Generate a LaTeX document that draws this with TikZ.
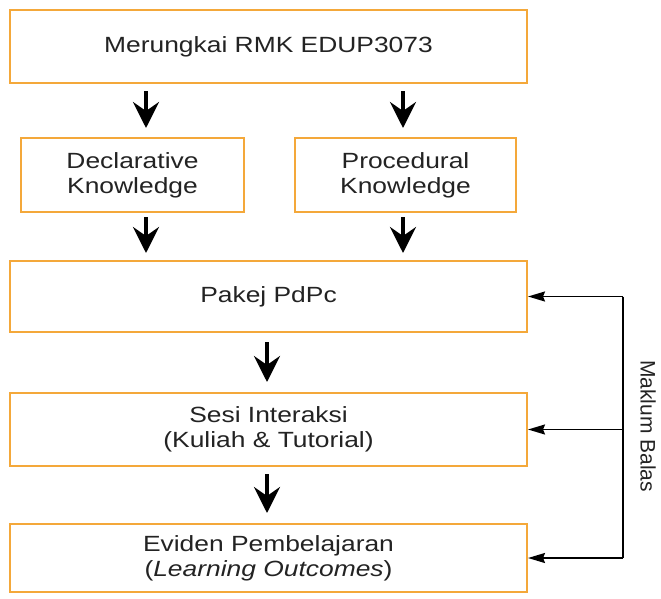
\documentclass[tikz,border=0pt]{standalone}
\usepackage{fontspec}
\setmainfont{Liberation Sans}[FakeStretch=1.2]
\newfontfamily\labelfont{Liberation Sans}
\usetikzlibrary{arrows.meta}

\definecolor{boxorange}{RGB}{244,168,58}
\definecolor{textgray}{RGB}{35,35,35}

\tikzset{
  stage/.style={draw=boxorange, line width=2pt, fill=white, align=center,
    text=textgray, inner sep=0pt,
    font=\fontsize{22}{25}\selectfont},
  flow/.style={line width=3.8pt, draw=black,
    -{Stealth[length=26pt,width=26pt,inset=9pt]}},
  feedback/.style={line width=1.8pt, draw=black,
    -{Stealth[length=17pt,width=10pt,inset=2pt]}},
  sidelabel/.style={text=textgray, font=\labelfont\fontsize{21}{25}\selectfont,
    rotate=-90, inner sep=0pt}
}

\begin{document}
\begin{tikzpicture}[x=1pt, y=-1pt]
  \useasboundingbox (0,0) rectangle (661,598);

  % process boxes
  \node[stage, minimum width=517pt, minimum height=73pt] (top) at (268.5,46.5)
    {Merungkai RMK EDUP3073};
  \node[stage, minimum width=223pt, minimum height=74pt] (decl) at (132.5,175)
    {Declarative\\Knowledge};
  \node[stage, minimum width=221pt, minimum height=74pt] (proc) at (405.5,175)
    {Procedural\\Knowledge};
  \node[stage, minimum width=517pt, minimum height=71pt] (pakej) at (268.5,296.5)
    {Pakej PdPc};
  \node[stage, minimum width=517pt, minimum height=73pt] (sesi) at (268.5,429.5)
    {Sesi Interaksi\\(Kuliah \& Tutorial)};
  \node[stage, minimum width=517pt, minimum height=68pt] (evid) at (268.5,558)
    {Eviden Pembelajaran\\(\textit{Learning Outcomes})};

  % columns of the downward arrows
  \coordinate (colL) at (146,0);
  \coordinate (colR) at (403,0);
  \coordinate (colM) at (267,0);

  \draw[flow, shorten <=7pt, shorten >=9pt] (colL |- top.south) -- (colL |- decl.north);
  \draw[flow, shorten <=7pt, shorten >=9pt] (colR |- top.south) -- (colR |- proc.north);
  \draw[flow, shorten <=4pt, shorten >=7pt] (colL |- decl.south) -- (colL |- pakej.north);
  \draw[flow, shorten <=4pt, shorten >=7pt] (colR |- proc.south) -- (colR |- pakej.north);
  \draw[flow, shorten <=9pt, shorten >=10pt] (colM |- pakej.south) -- (colM |- sesi.north);
  \draw[flow, shorten <=7pt, shorten >=10pt] (colM |- sesi.south) -- (colM |- evid.north);

  % feedback loop
  \coordinate (fbTop) at (623,296.5);
  \coordinate (fbBot) at (623,558);
  \draw[line width=1.8pt] (fbTop) -- (fbBot);
  \draw[feedback] (fbTop) -- (pakej.east);
  \draw[feedback] (fbTop |- sesi.east) -- (sesi.east);
  \draw[feedback] (fbBot) -- (evid.east);

  \node[sidelabel] (fblabel) at (648,426) {Maklum Balas};
\end{tikzpicture}
\end{document}
